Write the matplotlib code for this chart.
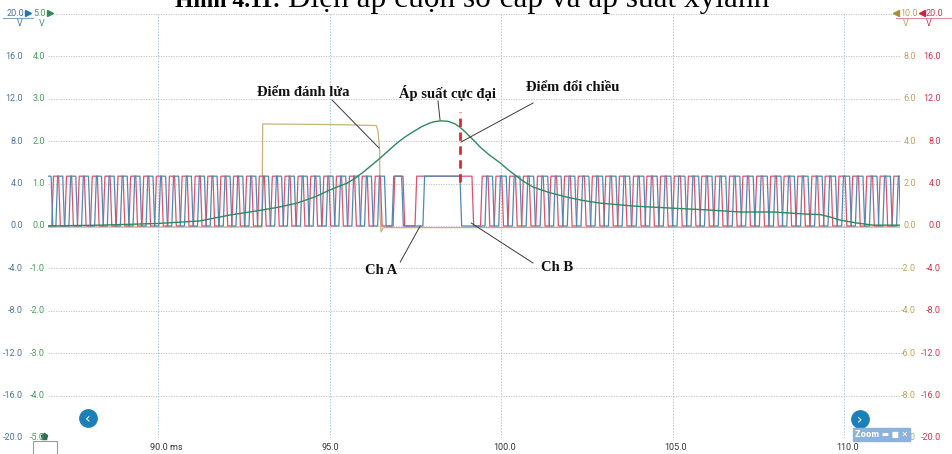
import matplotlib
matplotlib.use('Agg')
import matplotlib.pyplot as plt
from matplotlib.patches import Rectangle
import numpy as np

W, H = 953, 454

# time base, ms
t_start, t_end = 86.79, 111.63
x_ticks = [90.0, 95.0, 100.0, 105.0, 110.0]
x_tick_labels = ['90.0 ms', '95.0', '100.0', '105.0', '110.0']

# per-channel range labels (top to bottom)
cha_labels = ['20.0', '16.0', '12.0', '8.0', '4.0', '0.0', '-4.0', '-8.0', '-12.0', '-16.0', '-20.0']
chb_labels = ['20.0', '16.0', '12.0', '8.0', '4.0', '0.0', '-4.0', '-8.0', '-12.0', '-16.0', '-20.0']
chc_labels = ['5.0', '4.0', '3.0', '2.0', '1.0', '0.0', '-1.0', '-2.0', '-3.0', '-4.0', '-5.0']
chd_labels = ['10.0', '8.0', '6.0', '4.0', '2.0', '0.0', '-2.0', '-4.0', '-6.0', '-8.0', '-10.0']

# channel full scale (V), plotted against the +-20 V grid of Ch A
cha_range, chc_range, chd_range = 20.0, 5.0, 10.0

# Ch A / Ch B logic level (V) and pulses as (rise, fall) in ms
pulse_high = 4.7
cha_pulses = [
    (86.70, 86.88), (87.02, 87.22), (87.40, 87.60), (87.77, 87.97), (88.15, 88.35),
    (88.52, 88.72), (88.90, 89.10), (89.27, 89.47), (89.65, 89.85), (90.02, 90.22),
    (90.40, 90.60), (90.77, 90.97), (91.15, 91.35), (91.52, 91.72), (91.90, 92.10),
    (92.27, 92.47), (92.65, 92.85), (93.02, 93.22), (93.40, 93.60), (93.77, 93.97),
    (94.15, 94.35), (94.52, 94.72), (94.90, 95.10), (95.27, 95.47), (95.65, 95.85),
    (96.02, 96.22), (96.40, 96.60), (96.82, 97.10),
    (97.72, 98.80),
    (99.53, 99.75), (99.93, 100.15), (100.33, 100.55), (100.73, 100.95), (101.14, 101.36),
    (101.53, 101.75), (101.93, 102.15), (102.33, 102.56), (102.74, 102.96), (103.13, 103.35),
    (103.53, 103.75), (103.94, 104.16), (104.33, 104.55), (104.73, 104.95), (105.13, 105.36),
    (105.54, 105.76), (105.93, 106.15), (106.33, 106.55), (106.74, 106.96), (107.13, 107.35),
    (107.53, 107.76), (107.94, 108.16), (108.33, 108.55), (108.73, 108.95), (109.14, 109.36),
    (109.53, 109.75), (109.93, 110.16), (110.33, 110.55), (110.74, 110.96), (111.13, 111.35),
    (111.53, 111.75),
]
chb_pulses = [
    (86.90, 87.10), (87.28, 87.48), (87.65, 87.85), (88.03, 88.23), (88.40, 88.60),
    (88.78, 88.98), (89.15, 89.35), (89.53, 89.73), (89.90, 90.10), (90.28, 90.48),
    (90.65, 90.85), (91.03, 91.23), (91.40, 91.60), (91.78, 91.98), (92.15, 92.35),
    (92.53, 92.73), (92.90, 93.10), (93.28, 93.48), (93.65, 93.85), (94.03, 94.23),
    (94.40, 94.60), (94.78, 94.98), (95.15, 95.35), (95.53, 95.73), (95.90, 96.10),
    (96.28, 96.48), (96.85, 97.14),
    (97.49, 99.15),
    (99.40, 99.62), (99.80, 100.02), (100.20, 100.42), (100.60, 100.82), (101.01, 101.23),
    (101.40, 101.62), (101.80, 102.02), (102.20, 102.43), (102.61, 102.83), (103.00, 103.22),
    (103.40, 103.62), (103.81, 104.03), (104.20, 104.42), (104.60, 104.82), (105.00, 105.23),
    (105.41, 105.63), (105.80, 106.02), (106.20, 106.42), (106.61, 106.83), (107.00, 107.22),
    (107.40, 107.63), (107.81, 108.03), (108.20, 108.42), (108.60, 108.82), (109.01, 109.23),
    (109.40, 109.62), (109.80, 110.03), (110.20, 110.42), (110.61, 110.83), (111.00, 111.22),
    (111.40, 111.60),
]

# Ch C: cylinder pressure sensor (V, 5 V range)
chc_t = [86.79, 88.31, 90.00, 91.22, 92.10, 93.06, 93.55, 94.05, 94.55, 95.01,
         95.25, 95.51, 95.75, 95.98, 96.22, 96.47, 96.72, 96.97, 97.20, 97.43,
         97.70, 97.93, 98.05, 98.25, 98.45, 98.65, 98.80, 98.95, 99.10, 99.25,
         99.39, 99.65, 99.97, 100.20, 100.47, 100.70, 100.93, 101.40, 101.92, 102.40,
         102.89, 103.85, 105.01, 106.01, 106.97, 107.93, 108.92, 109.30, 109.60, 109.88,
         110.38, 110.85, 111.63]
chc_v = [0.00, 0.02, 0.06, 0.12, 0.26, 0.38, 0.45, 0.54, 0.68, 0.85,
         0.93, 1.01, 1.13, 1.27, 1.43, 1.60, 1.78, 1.96, 2.10, 2.22,
         2.35, 2.43, 2.46, 2.48, 2.47, 2.41, 2.33, 2.22, 2.10, 1.98,
         1.86, 1.68, 1.49, 1.33, 1.16, 1.03, 0.92, 0.79, 0.68, 0.60,
         0.54, 0.47, 0.42, 0.38, 0.33, 0.33, 0.28, 0.27, 0.21, 0.14,
         0.07, 0.02, 0.02]

# Ch D: ignition primary (V, 10 V range)
chd_t = [86.79, 93.03, 93.05, 94.14, 95.31, 96.36, 96.41, 96.46, 96.47, 96.50, 96.56, 111.63]
chd_v = [-0.05, -0.05, 4.81, 4.80, 4.78, 4.74, 4.50, 3.58, 0.60, -0.28, -0.08, -0.05]

# reversal marker
marker_t = 98.80
marker_v = (4.15, 10.75)

# colours
c_a, c_b, c_c, c_d = '#4f88b2', '#e0506c', '#2f8a5e', '#c9b27a'
lab_a, lab_b, lab_c, lab_d = '#4d759c', '#d8344e', '#4a9c5c', '#bfa35a'


def fx(x):
    return x / W


def fy(y):
    return 1 - y / H


def square_trace(pulses, high, edge=0.05):
    t, v = [t_start - 0.5], [0.0]
    for r, f in pulses:
        t += [r, r + edge, f, f + edge]
        v += [0.0, high, high, 0.0]
    t.append(t_end + 0.5)
    v.append(0.0)
    return t, v


def fig_marker(x, y, **kw):
    fig.lines.append(plt.Line2D([fx(x)], [fy(y)], transform=fig.transFigure, **kw))


fig = plt.figure(figsize=(W / 100, H / 100), dpi=100)
ax = fig.add_axes([fx(48), fy(438), fx(900) - fx(48), fy(14) - fy(438)])
ax.set_xlim(t_start, t_end)
ax.set_ylim(-cha_range, cha_range)
ax.axis('off')

# grid
for yv in np.linspace(-cha_range, cha_range, 11):
    ax.axhline(yv, color='#bdbdbd', lw=0.6, ls=(0, (1.5, 1.5)), zorder=0)
for xv in x_ticks:
    ax.axvline(xv, color='#a9c8da', lw=0.7, ls=(0, (1.5, 1.5)), zorder=0)

# traces
scale_c = cha_range / chc_range
scale_d = cha_range / chd_range
ax.plot(chd_t, np.array(chd_v) * scale_d, color=c_d, lw=0.9, zorder=2)
ta, va = square_trace(cha_pulses, pulse_high)
tb, vb = square_trace(chb_pulses, pulse_high)
ax.plot(tb, vb, color=c_b, lw=0.9, zorder=3)
ax.plot(ta, va, color=c_a, lw=0.9, zorder=3)
ax.plot(chc_t, np.array(chc_v) * scale_c, color=c_c, lw=1.0, zorder=4)

ax.plot([marker_t, marker_t], marker_v, color='#e0282e', lw=2.0, ls=(0, (3, 2)), zorder=5)

# annotations
ann_font = dict(family='Liberation Serif', weight='bold', size=10.5, color='#111111')
notes = [
    ('Điểm đánh lửa', (94.23, 12.64), (95.07, 11.89), (96.44, 7.36)),
    ('Áp suất cực đại', (98.43, 12.55), (98.16, 11.79), (98.22, 10.0)),
    ('Điểm đổi chiều', (102.10, 13.11), (100.93, 11.60), (98.83, 7.92)),
    ('Ch A', (96.50, -4.20), (97.06, -3.40), (97.64, 0.0)),
    ('Ch B', (101.63, -3.87), (100.93, -3.49), (99.13, 0.28)),
]
for label, txt_pos, p0, p1 in notes:
    ax.text(txt_pos[0], txt_pos[1], label, ha='center', va='center', **ann_font)
    ax.plot([p0[0], p1[0]], [p0[1], p1[1]], color='#3a3a3a', lw=0.7, zorder=6)

# x labels
for xv, lab in zip(x_ticks, x_tick_labels):
    xp = 158 + (xv - 90.0) * 34.3
    fig.text(fx(xp - 8), fy(448), lab, ha='left', va='center',
             family='Roboto', size=6.5, color='#333333')

# range labels
tick_font = dict(family='Roboto', size=6.5, va='center')
for i in range(1, 11):
    yp = 14 + i * 42.4
    fig.text(fx(23), fy(yp), cha_labels[i], ha='right', color=lab_a, **tick_font)
    fig.text(fx(45), fy(yp), chc_labels[i], ha='right', color=lab_c, **tick_font)
    fig.text(fx(916), fy(yp), chd_labels[i], ha='right', color=lab_d, zorder=1, **tick_font)
    fig.text(fx(941), fy(yp), chb_labels[i], ha='right', color=lab_b, **tick_font)

# channel range tabs at the top
fig.text(fx(24), fy(13), cha_labels[0], ha='right', color=lab_a, **tick_font)
fig.text(fx(46), fy(13), chc_labels[0], ha='right', color=lab_c, **tick_font)
fig.text(fx(918), fy(13), chd_labels[0], ha='right', color=lab_d, **tick_font)
fig.text(fx(943), fy(13), chb_labels[0], ha='right', color=lab_b, **tick_font)
for xp, col in [(20, lab_a), (42, lab_c), (906, lab_d), (929, lab_b)]:
    fig.text(fx(xp), fy(24), 'V', ha='center', color=col, **tick_font)
fig.lines.append(plt.Line2D([fx(3), fx(33)], [fy(18), fy(18)], color='#7fa6c6', lw=0.8,
                            transform=fig.transFigure))
fig.lines.append(plt.Line2D([fx(896), fx(952)], [fy(18), fy(18)], color='#e28a9a', lw=0.8,
                            transform=fig.transFigure))
for xp, col, mk in [(28, '#2478a8', '>'), (50, '#2e8b57', '>'), (896, '#a89030', '<'), (922, '#d0203e', '<')]:
    fig_marker(xp, 13, marker=mk, ms=4.5, color=col)

# bottom left tab
fig.patches.append(Rectangle((fx(33), fy(455)), fx(24), fy(441) - fy(455), fill=False,
                             ec='#9a9a9a', lw=0.8, transform=fig.transFigure))
fig_marker(44, 436, marker='p', ms=5, color='#2e6e4e')

# scroll buttons
for xp, yp, chev in [(88, 418, '‹'), (860, 419, '›')]:
    fig_marker(xp, yp, marker='o', ms=12.5, color='#1b80b9', mec='#1b80b9')
    fig.text(fx(xp), fy(yp + 1), chev, ha='center', va='center', color='white',
             family='DejaVu Sans', size=10, zorder=4)

# zoom box, drawn over the lowest Ch D label
zoom_box = Rectangle((fx(853), fy(441)), fx(57), fy(428) - fy(441), color='#8db2dc',
                     transform=fig.transFigure, zorder=2)
fig.patches.append(zoom_box)
fig.text(fx(855), fy(435), 'Zoom ▬ ■ ✕', ha='left', va='center', color='white',
         family='DejaVu Sans', weight='bold', size=5.5, zorder=3)

# caption, clipped by the top edge
renderer = fig.canvas.get_renderer()
t1 = fig.text(fx(175), fy(7), 'Hình 4.11:', ha='left', va='baseline',
              family='Liberation Serif', weight='bold', size=17, color='black')
bb = t1.get_window_extent(renderer)
fig.text(bb.x1 / fig.bbox.width + 7 / W, fy(7), 'Điện áp cuộn sơ cấp và áp suất xylanh',
         ha='left', va='baseline', family='Liberation Serif', size=22.5, color='black')

fig.savefig('out.png', dpi=100)
